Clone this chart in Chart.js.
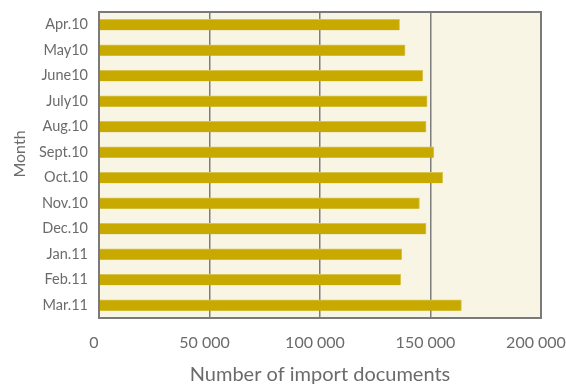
<!DOCTYPE html>
<html>
<head>
<meta charset="utf-8">
<style>
  html, body { margin: 0; padding: 0; background: #ffffff; }
  #wrap { width: 566px; height: 387px; position: relative; }
</style>
<script src="https://cdn.jsdelivr.net/npm/chart.js@4"></script>
</head>
<body>
<div id="wrap"><canvas id="chart" width="566" height="387"></canvas></div>
<script>
// Monthly count of import documents, April 2010 – March 2011
const months = ['Apr.10', 'May10', 'June10', 'July10', 'Aug.10', 'Sept.10',
                'Oct.10', 'Nov.10', 'Dec.10', 'Jan.11', 'Feb.11', 'Mar.11'];
const importDocuments = [136000, 138500, 146500, 148500, 148000, 151500,
                         155500, 145000, 148000, 137000, 136500, 164000];
const xTicks = [0, 50000, 100000, 150000, 200000];
const xMax = 200000;
const yTitle = 'Month';

const FONT = 'Lato, "Open Sans", sans-serif';
const TEXT = '#6b6b6b';

// Cream plot background, grey frame, and the rotated "Month" axis title
const framePlugin = {
  id: 'frame',
  beforeDraw(chart) {
    const { ctx, chartArea: a } = chart;
    ctx.save();
    ctx.fillStyle = '#f8f5e5';
    ctx.fillRect(a.left, a.top, a.right - a.left, a.bottom - a.top);
    ctx.restore();
  },
  afterDraw(chart) {
    const { ctx, chartArea: a } = chart;
    ctx.save();
    ctx.strokeStyle = '#7a7a7a';
    ctx.lineWidth = 2;
    ctx.strokeRect(a.left, a.top, a.right - a.left, a.bottom - a.top);

    ctx.translate(20, (a.top + a.bottom) / 2 - 11);
    ctx.rotate(-Math.PI / 2);
    ctx.fillStyle = TEXT;
    ctx.font = '16px ' + FONT;
    ctx.textAlign = 'center';
    ctx.textBaseline = 'middle';
    ctx.fillText(yTitle, 0, 0);
    ctx.restore();
  }
};

const fmt = v => String(v).replace(/\B(?=(\d{3})+(?!\d))/g, ' ');

new Chart(document.getElementById('chart'), {
  type: 'bar',
  data: {
    labels: months,
    datasets: [{
      data: importDocuments,
      backgroundColor: '#c7a900',
      borderColor: '#d8c451',
      borderWidth: { top: 1, right: 1, bottom: 0, left: 0 },
      borderSkipped: 'start',
      barThickness: 11
    }]
  },
  options: {
    indexAxis: 'y',
    responsive: false,
    animation: false,
    layout: { padding: { left: 0, right: 25, top: 12, bottom: 0 } },
    plugins: {
      legend: { display: false },
      tooltip: { enabled: false }
    },
    scales: {
      x: {
        min: 0,
        max: xMax,
        afterBuildTicks(scale) {
          scale.ticks = xTicks.map(v => ({ value: v }));
        },
        afterFit(scale) {
          scale.height = 69;
          scale.paddingLeft = 0;
          scale.paddingRight = 0;
        },
        grid: {
          color: '#7d7d7d',
          lineWidth: 1.5,
          drawTicks: false
        },
        border: { display: false },
        ticks: {
          padding: 15,
          color: TEXT,
          font: { family: FONT, size: 16 },
          maxRotation: 0,
          labelOffset: -5,
          callback: v => fmt(v)
        },
        title: {
          display: true,
          text: 'Number of import documents',
          color: TEXT,
          font: { family: FONT, size: 20 },
          padding: { top: 7, bottom: 0 }
        }
      },
      y: {
        afterFit(scale) {
          scale.width = 99;
          scale.paddingTop = 0;
          scale.paddingBottom = 0;
        },
        grid: { display: false, drawTicks: false },
        border: { display: false },
        ticks: {
          padding: 11,
          color: TEXT,
          font: { family: FONT, size: 14.5 }
        }
      }
    }
  },
  plugins: [framePlugin]
});
</script>
</body>
</html>
